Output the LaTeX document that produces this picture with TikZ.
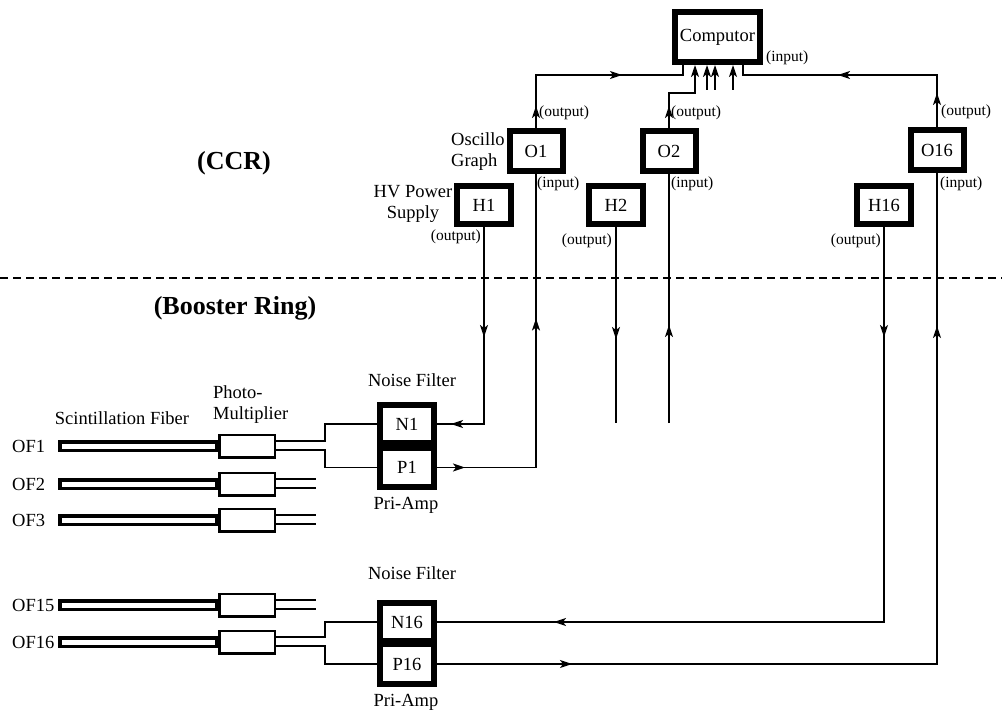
\documentclass[tikz,border=0pt]{standalone}
\usepackage{fontspec}
\setmainfont{Liberation Serif}
\usetikzlibrary{arrows.meta,decorations.markings,calc}
\begin{document}
\begin{tikzpicture}[x=1pt,y=-1pt,
  txt/.style={inner sep=0pt,font=\fontsize{18.5}{21}\selectfont},
  small/.style={inner sep=0pt,font=\fontsize{15.5}{18}\selectfont},
  big/.style={inner sep=0pt,font=\bfseries\fontsize{26}{30}\selectfont},
  tbox/.style={draw,line width=6pt,fill=white,inner sep=0pt,font=\fontsize{18.5}{21}\selectfont},
  fiber/.style={draw,line width=3.5pt,fill=white,inner sep=0pt,minimum width=156.5pt,minimum height=8.5pt},
  pmt/.style={draw,line width=2.5pt,fill=white,inner sep=0pt,minimum width=55.5pt,minimum height=22.5pt},
  conn/.style={draw,line width=1.6pt},
  tip/.style={-{Stealth[length=12pt,width=8pt,inset=3pt]}},
  arrowat/.style={postaction={decorate,decoration={markings,
     mark=at position #1 with {\arrow{Stealth[length=12pt,width=8pt,inset=3pt]}}}}}]
\useasboundingbox (0,0) rectangle (1002,714);

% region separator
\draw[line width=1.5pt,dash pattern=on 8pt off 5pt] (0,278) -- (1002,278);
\node[big] (ccr) at (234,163) {(CCR)};
\node[big] (booster) at (235,308) {(Booster Ring)};

% CCR boxes
\node[tbox,minimum width=85pt,minimum height=50pt] (C) at (717.5,37) {Computor};
\node[tbox,minimum width=53pt,minimum height=40pt] (O1) at (536,151) {O1};
\node[tbox,minimum width=53pt,minimum height=40pt] (O2) at (669,151) {O2};
\node[tbox,minimum width=53pt,minimum height=40pt] (O16) at (937,150) {O16};
\node[tbox,minimum width=54pt,minimum height=38pt] (H1) at (484,205) {H1};
\node[tbox,minimum width=54pt,minimum height=38pt] (H2) at (616,205) {H2};
\node[tbox,minimum width=54pt,minimum height=38pt] (H16) at (884,205) {H16};

% CCR labels
\node[txt,align=left,anchor=west] (osc) at (451,152) {Oscillo\\Graph};
\node[txt,align=center] (hv) at (413,204) {HV Power\\Supply};
\node[small,anchor=west] (lo1o) at (539,113) {(output)};
\node[small,anchor=west] (lo1i) at (537,184) {(input)};
\node[small,anchor=east] (lh1o) at (481,237) {(output)};
\node[small,anchor=east] (lh2o) at (612,241) {(output)};
\node[small,anchor=west] (lo2o) at (671,113) {(output)};
\node[small,anchor=west] (lo2i) at (671,184) {(input)};
\node[small,anchor=west] (lci) at (766,58) {(input)};
\node[small,anchor=west] (lo16o) at (941,112) {(output)};
\node[small,anchor=west] (lo16i) at (940,184) {(input)};
\node[small,anchor=east] (lh16o) at (881,241) {(output)};

% bends and free ends
\coordinate (b1) at (683,75);
\coordinate (b2) at (695,93);
\coordinate (b16) at (743,75);
\coordinate (a3) at (707,90);
\coordinate (a4) at (715,90);
\coordinate (a5) at (733,90);
\coordinate (h2e) at (616,423);
\coordinate (o2e) at (669,423);

% oscillograph outputs to computer
\draw[conn,arrowat=22pt,arrowat=139pt] (O1.north) |- (b1) -- (b1 |- C.south);
\draw[conn,tip,arrowat=22pt] (O2.north) |- (b2) -- (b2 |- C.south);
\draw[conn,arrowat=34pt,arrowat=151pt] (O16.north) |- (b16) -- (b16 |- C.south);
\draw[conn,tip] (a3) -- (a3 |- C.south);
\draw[conn,tip] (a4) -- (a4 |- C.south);
\draw[conn,tip] (a5) -- (a5 |- C.south);

% Booster ring: fibers and photomultipliers
\foreach \n/\y/\lab in {1/446/OF1,2/484/OF2,3/520/OF3,15/605/OF15,16/642/OF16}{
  \node[fiber] (F\n) at (138,\y) {};
  \node[pmt] (M\n) at (247,\y) {};
  \node[txt,anchor=west] (L\n) at (12,\y) {\lab};
}
\node[txt,anchor=south] (sf) at (122,425) {Scintillation Fiber};
\node[txt,align=left,anchor=west] (pm) at (213,405) {Photo-\\Multiplier};

% noise filter / pre-amp blocks
\node[tbox,minimum width=54pt,minimum height=38pt] (N1) at (407,424) {N1};
\node[tbox,minimum width=54pt,minimum height=39pt] (P1) at (407,467.5) {P1};
\node[tbox,minimum width=54pt,minimum height=38pt] (N16) at (407,622) {N16};
\node[tbox,minimum width=54pt,minimum height=40pt] (P16) at (407,664) {P16};
\node[txt] (nf1) at (412,380) {Noise Filter};
\node[txt] (pa1) at (406,505) {Pri-Amp};
\node[txt] (nf16) at (412,573) {Noise Filter};
\node[txt] (pa16) at (406,702) {Pri-Amp};

% PMT outputs
\draw[conn] ($(M1.east)+(0,-5)$) -- ++(49,0) |- (N1.west);
\draw[conn] ($(M1.east)+(0,4)$) -- ++(49,0) |- (P1.west);
\draw[conn] ($(M16.east)+(0,-5)$) -- ++(49,0) |- (N16.west);
\draw[conn] ($(M16.east)+(0,4)$) -- ++(49,0) |- (P16.west);
\foreach \n in {2,3,15}{
  \draw[conn] ($(M\n.east)+(0,-5)$) -- ++(40,0);
  \draw[conn] ($(M\n.east)+(0,4)$) -- ++(40,0);
}

% HV supply and oscillograph lines
\draw[conn,arrowat=110pt,arrowat=230pt] (H1.south) |- (N1.east);
\draw[conn,arrowat=28pt,arrowat=248pt] (P1.east) -| (O1.south);
\draw[conn,arrowat=112pt] (H2.south) -- (h2e);
\draw[conn,arrowat=98pt] (o2e) -- (O2.south);
\draw[conn,arrowat=110pt,arrowat=725pt] (H16.south) |- (N16.east);
\draw[conn,arrowat=135pt,arrowat=838pt] (P16.east) -| (O16.south);
\end{tikzpicture}
\end{document}
